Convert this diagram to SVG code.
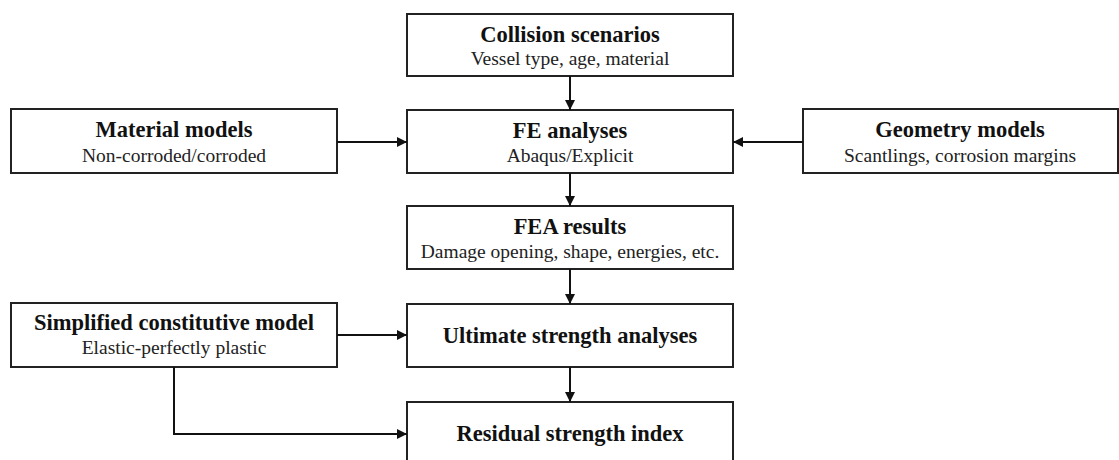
<svg xmlns="http://www.w3.org/2000/svg" width="1119" height="460" viewBox="0 0 1119 460">
<style>
.box{fill:#fff;stroke:#222;stroke-width:2}
.t{font-family:"Liberation Serif",serif;font-weight:bold;font-size:22.5px;fill:#111;text-anchor:middle}
.s{font-family:"Liberation Serif",serif;font-size:19.5px;fill:#222;text-anchor:middle}
.c{fill:none;stroke:#111;stroke-width:2;marker-end:url(#ah)}
</style>
<defs>
<marker id="ah" viewBox="0 0 10 10" refX="10" refY="5" markerWidth="5" markerHeight="5" orient="auto" markerUnits="strokeWidth">
<path d="M0,0 L10,5 L0,10 z" fill="#111"/>
</marker>
</defs>
<g id="collision"><rect class="box" x="407" y="14" width="326" height="62"/><text class="t" x="570" y="42">Collision scenarios</text><text class="s" x="570" y="65">Vessel type, age, material</text></g>
<g id="fe"><rect class="box" x="407" y="110" width="326" height="63"/><text class="t" x="570" y="138">FE analyses</text><text class="s" x="570" y="162">Abaqus/Explicit</text></g>
<g id="material"><rect class="box" x="11" y="109" width="326" height="64"/><text class="t" x="174" y="137">Material models</text><text class="s" x="174" y="162">Non-corroded/corroded</text></g>
<g id="geometry"><rect class="box" x="803" y="109" width="315" height="64"/><text class="t" x="960" y="137">Geometry models</text><text class="s" x="960" y="162">Scantlings, corrosion margins</text></g>
<g id="fea"><rect class="box" x="407" y="206" width="326" height="63"/><text class="t" x="570" y="234">FEA results</text><text class="s" x="570" y="258">Damage opening, shape, energies, etc.</text></g>
<g id="simplified"><rect class="box" x="11" y="303" width="326" height="64"/><text class="t" x="174" y="330">Simplified constitutive model</text><text class="s" x="174" y="354">Elastic-perfectly plastic</text></g>
<g id="ultimate"><rect class="box" x="407" y="304" width="326" height="63"/><text class="t" x="570" y="343">Ultimate strength analyses</text></g>
<g id="residual"><rect class="box" x="407" y="402" width="326" height="70"/><text class="t" x="570" y="441">Residual strength index</text></g>
<g id="connectors">
<path class="c" d="M570,76 V110"/>
<path class="c" d="M570,173 V206"/>
<path class="c" d="M570,269 V304"/>
<path class="c" d="M570,367 V402"/>
<path class="c" d="M337,142 H407"/>
<path class="c" d="M803,142 H733"/>
<path class="c" d="M337,335 H407"/>
<path class="c" d="M174,367 V434 H407"/>
</g>
</svg>
